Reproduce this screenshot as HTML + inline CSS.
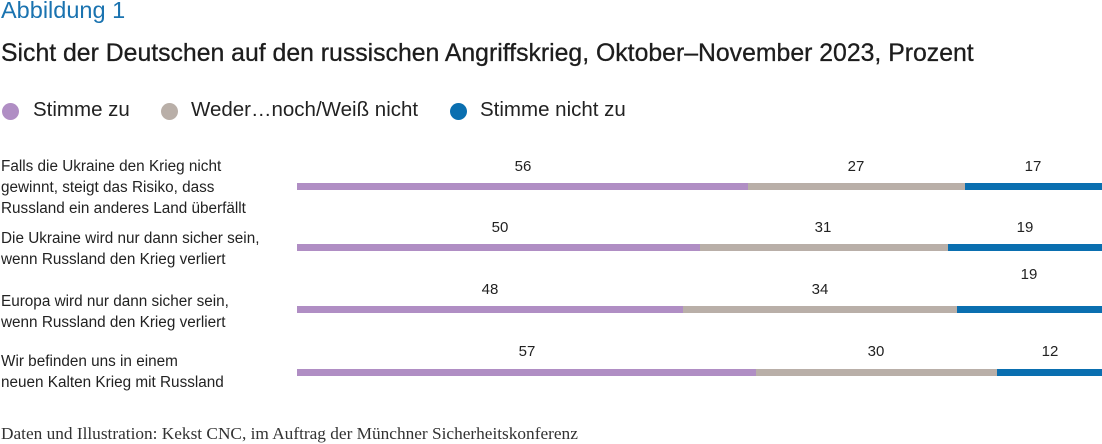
<!DOCTYPE html>
<html><head><meta charset="utf-8"><style>
body{margin:0;width:1102px;height:444px;background:#fff;position:relative;font-family:"Liberation Sans",sans-serif;color:#222;overflow:hidden}
.a{position:absolute;white-space:nowrap}
.lab{font-size:15.3px;line-height:21px;color:#222}
.n{font-size:15px;transform:translateX(-50%)}
.b{position:absolute;height:7px}
.p{background:#b08ec4}.g{background:#b9afa8}.u{background:#0a6fb0}
.dot{position:absolute;width:17px;height:17px;border-radius:50%}
</style></head><body>
<div class="a" style="left:1px;top:-3px;font-size:23.5px;color:#1a73b0">Abbildung 1</div>
<div class="a" style="left:1px;top:40px;font-size:24.8px;color:#1d1d1d;-webkit-text-stroke:0.3px #1d1d1d">Sicht der Deutschen auf den russischen Angriffskrieg, Oktober–November 2023, Prozent</div>
<div class="dot" style="left:2px;top:103px;background:#b08ec4"></div>
<div class="a" style="left:33px;top:98px;font-size:20.5px">Stimme zu</div>
<div class="dot" style="left:161px;top:103px;background:#b9afa8"></div>
<div class="a" style="left:191px;top:98px;font-size:20.5px">Weder…noch/Weiß nicht</div>
<div class="dot" style="left:450px;top:103px;background:#0a6fb0"></div>
<div class="a" style="left:480px;top:98px;font-size:20.5px">Stimme nicht zu</div>

<div class="a lab" style="left:1px;top:156px">Falls die Ukraine den Krieg nicht<br>gewinnt, steigt das Risiko, dass<br>Russland ein anderes Land überfällt</div>
<div class="a lab" style="left:1px;top:228px">Die Ukraine wird nur dann sicher sein,<br>wenn Russland den Krieg verliert</div>
<div class="a lab" style="left:1px;top:291px">Europa wird nur dann sicher sein,<br>wenn Russland den Krieg verliert</div>
<div class="a lab" style="left:1px;top:351px">Wir befinden uns in einem<br>neuen Kalten Krieg mit Russland</div>

<div class="b p" style="left:297px;width:451px;top:183px"></div>
<div class="b g" style="left:748px;width:217px;top:183px"></div>
<div class="b u" style="left:965px;width:137px;top:183px"></div>
<div class="a n" style="left:523px;top:158px">56</div>
<div class="a n" style="left:856px;top:158px">27</div>
<div class="a n" style="left:1033px;top:158px">17</div>

<div class="b p" style="left:297px;width:403px;top:244px"></div>
<div class="b g" style="left:700px;width:248px;top:244px"></div>
<div class="b u" style="left:948px;width:154px;top:244px"></div>
<div class="a n" style="left:500px;top:219px">50</div>
<div class="a n" style="left:823px;top:219px">31</div>
<div class="a n" style="left:1025px;top:219px">19</div>

<div class="b p" style="left:297px;width:386px;top:306px"></div>
<div class="b g" style="left:683px;width:274px;top:306px"></div>
<div class="b u" style="left:957px;width:145px;top:306px"></div>
<div class="a n" style="left:490px;top:281px">48</div>
<div class="a n" style="left:820px;top:281px">34</div>
<div class="a n" style="left:1029px;top:266px">19</div>

<div class="b p" style="left:297px;width:459px;top:369px"></div>
<div class="b g" style="left:756px;width:241px;top:369px"></div>
<div class="b u" style="left:997px;width:105px;top:369px"></div>
<div class="a n" style="left:527px;top:343px">57</div>
<div class="a n" style="left:876px;top:343px">30</div>
<div class="a n" style="left:1050px;top:343px">12</div>

<div class="a" style="left:1px;top:424px;font-size:17.3px;font-family:'Liberation Serif',serif;color:#333">Daten und Illustration: Kekst CNC, im Auftrag der Münchner Sicherheitskonferenz</div>
</body></html>
